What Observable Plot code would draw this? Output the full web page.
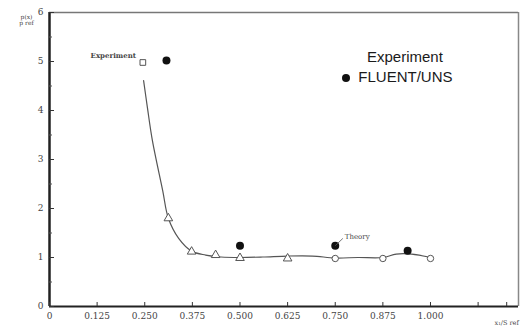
<!DOCTYPE html>
<html>
<head>
<meta charset="utf-8">
<script src="https://cdn.jsdelivr.net/npm/d3@7"></script>
<script src="https://cdn.jsdelivr.net/npm/@observablehq/plot@0.6"></script>
<style>
  html, body { margin: 0; padding: 0; background: #fff; }
  #wrap { position: relative; width: 525px; height: 329px; overflow: hidden; }
  .legend { position: absolute; font-family: "Liberation Sans", Arial, sans-serif; font-size: 15px; color: #1a1a1a; line-height: 1; }
  .legend .dot { display: inline-block; width: 8px; height: 8px; border-radius: 50%; background: #111; }
</style>
</head>
<body>
<div id="wrap"></div>
<script>
// Experiment (open markers)
const expX = [0.245, 0.312, 0.373, 0.436, 0.5, 0.625, 0.75, 0.875, 1.0];
const expY = [4.98, 1.80, 1.12, 1.05, 0.99, 0.98, 0.98, 0.98, 0.98];
const expSym = ["square", "triangle", "triangle", "triangle", "triangle", "triangle", "circle", "circle", "circle"];
// FLUENT/UNS (filled dots)
const fluX = [0.307, 0.5, 0.75, 0.94];
const fluY = [5.02, 1.24, 1.24, 1.14];
// Theory curve
const thX = [0.247, 0.257, 0.270, 0.297, 0.312, 0.339, 0.373, 0.41, 0.45, 0.5, 0.56, 0.625, 0.69, 0.75, 0.81, 0.875, 0.91, 0.95, 1.0];
const thY = [4.61, 4.06, 3.39, 2.37, 1.80, 1.39, 1.13, 1.05, 1.01, 1.0, 1.01, 1.03, 1.03, 0.99, 1.0, 1.0, 1.07, 1.07, 1.0];
// Axis ticks
const xTicks = [0, 0.125, 0.25, 0.375, 0.5, 0.625, 0.75, 0.875, 1.0];
const xTickLabels = ["0", "0.125", "0.250", "0.375", "0.500", "0.625", "0.750", "0.875", "1.000"];
const xExtraTicks = [1.125, 1.2];
const yTicks = [0, 1, 2, 3, 4, 5, 6];
const yMinor = [0.5, 1.5, 2.5, 3.5, 4.5, 5.5];

const expData = expX.map((x, i) => ({x, y: expY[i], s: expSym[i]}));
const fluData = fluX.map((x, i) => ({x, y: fluY[i]}));
const thData = thX.map((x, i) => ({x, y: thY[i]}));

const serif = "'DejaVu Serif', 'Liberation Serif', serif";

const chart = Plot.plot({
  width: 525,
  height: 329,
  marginLeft: 49,
  marginRight: 7,
  marginTop: 12,
  marginBottom: 23,
  style: {background: "#fff", fontFamily: serif, fontSize: "8px", color: "#333"},
  x: {domain: [0, 1.231]},
  y: {domain: [0, 6]},
  symbol: {type: "identity"},
  marks: [
    // frame: top and right thin grey, left/bottom dark
    Plot.ruleY([6], {stroke: "#777", strokeWidth: 1.5}),
    Plot.ruleX([1.231], {stroke: "#888", strokeWidth: 1.5}),
    Plot.ruleX([0], {stroke: "#222", strokeWidth: 2.5}),
    Plot.ruleY([0], {stroke: "#222", strokeWidth: 2}),
    Plot.axisX([...xTicks, ...xExtraTicks], {tickSize: -4, tickFormat: () => "", stroke: "#333"}),
    Plot.axisX(xTicks, {tickSize: 0, tickPadding: 6, tickFormat: (d, i) => xTickLabels[i], fill: "#444", fontSize: 9, label: null}),
    Plot.axisY(yTicks, {tickSize: -5, tickFormat: () => "", stroke: "#333", label: null}),
    Plot.axisY(yMinor, {tickSize: -3, tickFormat: () => "", stroke: "#555", label: null}),
    Plot.axisY(yTicks, {tickSize: 0, tickPadding: 6, fill: "#444", fontSize: 9, label: null}),
    // theory curve
    Plot.line(thData, {x: "x", y: "y", curve: "catmull-rom", stroke: "#555", strokeWidth: 1.2}),
    // experiment markers
    Plot.dot(expData, {x: "x", y: "y", symbol: "s", r: 3.2, stroke: "#555", strokeWidth: 1, fill: "#fff"}),
    // FLUENT
    Plot.dot(fluData, {x: "x", y: "y", r: 4, fill: "#111", stroke: "none"}),
    // leader line for "Theory" label
    Plot.link([{x1: 0.75, y1: 1.24, x2: 0.77, y2: 1.39}], {x1: "x1", y1: "y1", x2: "x2", y2: "y2", stroke: "#555", strokeWidth: 0.8}),
    Plot.text(["Theory"], {x: 0.775, y: 1.42, text: d => d, textAnchor: "start", fontSize: 7, fill: "#444", fontFamily: serif}),
    Plot.text(["Experiment"], {x: 0.227, y: 5.12, text: d => d, textAnchor: "end", fontSize: 7, fill: "#444", fontFamily: serif, fontWeight: "bold"}),
    // axis titles
    Plot.text(["p(x)"], {x: 0, y: 5.9, dx: -23, text: d => d, fontSize: 6, fill: "#444", frameAnchor: "middle"}),
    Plot.text(["p ref"], {x: 0, y: 5.9, dx: -23, dy: 6, text: d => d, fontSize: 6, fill: "#444"}),
    Plot.text(["x₁/S ref"], {x: 1.2, y: 0, dy: 16, text: d => d, fontSize: 6.5, fill: "#444"})
  ]
});

const wrap = document.getElementById("wrap");
wrap.appendChild(chart);

const leg1 = document.createElement("div");
leg1.className = "legend";
leg1.style.left = "367px";
leg1.style.top = "49px";
leg1.textContent = "Experiment";
wrap.appendChild(leg1);

const leg2 = document.createElement("div");
leg2.className = "legend";
leg2.style.left = "342px";
leg2.style.top = "69px";
leg2.innerHTML = '<span class="dot"></span>&nbsp;&nbsp;FLUENT/UNS';
wrap.appendChild(leg2);
</script>
</body>
</html>
